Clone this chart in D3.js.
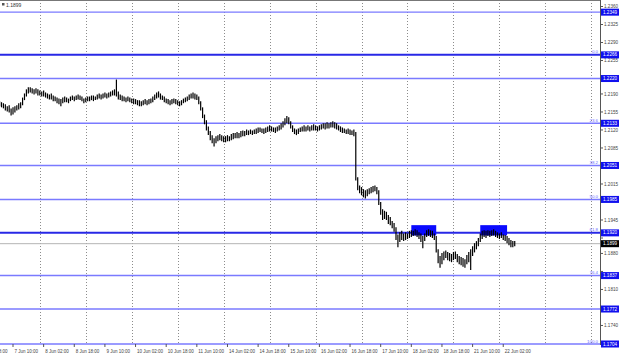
<!DOCTYPE html>
<html><head><meta charset="utf-8">
<script src="https://cdn.jsdelivr.net/npm/d3@7/dist/d3.min.js"></script>
<style>html,body{margin:0;padding:0;background:#fff;}svg{display:block;}</style>
</head><body>
<svg id="c" width="620" height="357"></svg>
<script>
// ---- data ----
const firstBarIndex = -7; // bar index of first visible H1 bar (0 = 7 Jun 10:00)
const highs = [
1.2175,1.2173,1.2171,1.2169,1.2165,1.2167,1.2161,1.2163,1.2165,1.2167,1.2171,1.2173,1.2182,1.2190,1.2198,1.2202,1.2202,
1.2200,1.2198,1.2200,1.2198,1.2196,1.2194,1.2196,1.2192,1.2190,1.2188,1.2190,1.2186,1.2184,1.2182,1.2180,1.2179,1.2182,1.2184,1.2182,1.2180,
1.2184,1.2186,1.2184,1.2186,1.2188,1.2186,1.2184,1.2180,1.2182,1.2184,1.2184,1.2186,1.2186,1.2184,1.2188,1.2190,1.2188,1.2190,1.2192,1.2190,1.2192,1.2194,1.2196,1.2198,
1.2217,1.2194,1.2188,1.2186,1.2184,1.2182,1.2184,1.2182,1.2180,1.2180,1.2179,1.2177,1.2177,1.2175,1.2177,1.2179,1.2177,1.2179,1.2180,1.2184,1.2188,1.2192,1.2194,1.2190,1.2186,
1.2184,1.2180,1.2179,1.2177,1.2179,1.2180,1.2179,1.2177,1.2175,1.2177,1.2180,1.2182,1.2184,1.2188,1.2190,1.2192,1.2190,1.2188,1.2184,
1.2175,1.2163,1.2149,1.2138,1.2126,1.2117,1.2109,1.2103,1.2107,1.2109,1.2111,1.2109,1.2107,1.2107,1.2109,1.2107,1.2111,1.2113,1.2113,1.2115,1.2113,1.2117,1.2118,
1.2117,1.2120,1.2118,1.2120,1.2118,1.2120,1.2122,1.2124,1.2124,1.2122,1.2122,1.2124,1.2126,1.2128,1.2126,1.2124,1.2124,1.2126,1.2128,1.2132,1.2136,1.2142,1.2146,1.2144,1.2136,
1.2128,1.2122,1.2120,1.2122,1.2124,1.2126,1.2128,1.2126,1.2128,1.2126,1.2128,1.2130,1.2128,1.2126,1.2128,1.2130,1.2132,1.2132,1.2134,1.2132,1.2134,1.2136,1.2134,1.2132,1.2128,1.2126,1.2124,1.2122,1.2120,1.2122,1.2120,1.2118,1.2120,
1.2115,1.2027,1.2011,1.2008,1.2004,1.2002,1.2004,1.2006,1.2008,1.2010,1.2011,1.2008,1.2002,1.1979,1.1965,1.1962,1.1960,1.1954,1.1950,1.1942,1.1938,1.1930,
1.1916,1.1920,1.1923,1.1918,1.1920,1.1918,1.1923,1.1924,1.1923,1.1926,1.1924,1.1920,1.1918,1.1913,1.1918,1.1924,1.1926,1.1924,1.1923,1.1918,1.1913,
1.1887,1.1874,1.1880,1.1883,1.1885,1.1882,1.1880,1.1878,1.1882,1.1883,1.1878,1.1874,1.1872,1.1870,1.1868,1.1876,1.1882,1.1887,1.1893,1.1899,1.1903,1.1909,
1.1918,1.1923,1.1924,1.1923,1.1924,1.1923,1.1924,1.1926,1.1923,1.1920,1.1918,1.1920,1.1916,1.1915,1.1913,1.1909,1.1905,1.1903,1.1903
];
const lows = [
1.2167,1.2165,1.2163,1.2159,1.2157,1.2155,1.2149,1.2151,1.2155,1.2159,1.2161,1.2163,1.2169,1.2179,1.2186,1.2192,1.2194,
1.2192,1.2190,1.2192,1.2188,1.2188,1.2186,1.2186,1.2184,1.2182,1.2180,1.2180,1.2177,1.2177,1.2173,1.2171,1.2167,1.2173,1.2175,1.2175,1.2173,
1.2177,1.2179,1.2177,1.2179,1.2180,1.2179,1.2177,1.2173,1.2175,1.2177,1.2177,1.2179,1.2177,1.2179,1.2180,1.2182,1.2180,1.2182,1.2184,1.2182,1.2184,1.2186,1.2188,1.2188,
1.2186,1.2180,1.2179,1.2177,1.2177,1.2175,1.2177,1.2175,1.2173,1.2171,1.2171,1.2169,1.2167,1.2167,1.2169,1.2171,1.2169,1.2171,1.2173,1.2175,1.2179,1.2182,1.2184,1.2180,1.2179,
1.2175,1.2173,1.2171,1.2169,1.2171,1.2173,1.2171,1.2169,1.2167,1.2169,1.2173,1.2175,1.2177,1.2179,1.2182,1.2182,1.2180,1.2179,1.2171,
1.2159,1.2144,1.2132,1.2120,1.2111,1.2101,1.2095,1.2089,1.2095,1.2099,1.2101,1.2099,1.2097,1.2097,1.2099,1.2099,1.2101,1.2103,1.2105,1.2105,1.2105,1.2107,1.2109,
1.2109,1.2111,1.2111,1.2113,1.2111,1.2113,1.2113,1.2115,1.2117,1.2115,1.2113,1.2115,1.2117,1.2118,1.2118,1.2117,1.2115,1.2118,1.2120,1.2122,1.2126,1.2130,1.2134,1.2132,1.2124,
1.2117,1.2113,1.2111,1.2113,1.2117,1.2118,1.2118,1.2118,1.2120,1.2118,1.2120,1.2120,1.2120,1.2118,1.2120,1.2122,1.2124,1.2122,1.2124,1.2124,1.2126,1.2126,1.2124,1.2122,1.2120,1.2117,1.2115,1.2115,1.2113,1.2113,1.2111,1.2111,1.2109,
1.2023,1.2004,1.1998,1.1994,1.1990,1.1988,1.1992,1.1996,1.1998,1.2000,1.2002,1.1996,1.1975,1.1956,1.1946,1.1948,1.1946,1.1938,1.1936,1.1930,1.1923,1.1907,
1.1893,1.1903,1.1907,1.1905,1.1907,1.1909,1.1911,1.1913,1.1915,1.1916,1.1913,1.1909,1.1903,1.1891,1.1905,1.1913,1.1915,1.1913,1.1911,1.1907,1.1883,
1.1862,1.1853,1.1860,1.1868,1.1872,1.1868,1.1866,1.1864,1.1868,1.1870,1.1864,1.1860,1.1858,1.1855,1.1853,1.1860,1.1864,1.1849,1.1876,1.1883,1.1889,1.1895,
1.1903,1.1909,1.1913,1.1911,1.1915,1.1913,1.1915,1.1916,1.1913,1.1911,1.1909,1.1911,1.1907,1.1905,1.1901,1.1897,1.1893,1.1893,1.1895
];
const timeLabels = ["4 Jun 18:00","7 Jun 10:00","8 Jun 02:00","8 Jun 18:00","9 Jun 10:00","10 Jun 02:00","10 Jun 18:00","11 Jun 10:00","14 Jun 02:00","14 Jun 18:00","15 Jun 10:00","16 Jun 02:00","16 Jun 18:00","17 Jun 10:00","18 Jun 02:00","18 Jun 18:00","21 Jun 10:00","22 Jun 02:00"];
const timeLabelIndex = [-16,0,16,32,48,64,80,96,112,128,144,160,176,192,208,224,240,256];
const dayStartIndex = [14,38,62,86,110,134,158,182,206,230,254,278,302];
const priceTicks = [1.2360,1.2325,1.2290,1.2255,1.2220,1.2190,1.2155,1.2120,1.2085,1.2050,1.2015,1.1980,1.1945,1.1910,1.1880,1.1845,1.1810,1.1775,1.1740];
const levelValues = [1.2349,1.2266,1.2220,1.2133,1.2051,1.1985,1.1920,1.1837,1.1772,1.1704];
const levelStrong = [false,true,false,false,false,false,true,false,false,false];
const fibNames = ["0.0","23.6","38.2","50.0","61.8","76.4","100.0"];
const fibValues = [1.2266,1.2133,1.2051,1.1985,1.1920,1.1837,1.1704];
const zoneStartIndex = [208,244];
const zoneEndIndex = [221,258];
const zoneTop = [1.1935];
const zoneBottom = [1.1915];
const currentPrice = 1.1899;

// ---- drawing ----
const svg = d3.select("#c");
const W = 620, H = 357, plotR = 600, plotB = 344;
const font = "'Liberation Sans', Arial, sans-serif";
const y = d3.scaleLinear().domain([1.2360, 1.1704]).range([6.5, 344]);
const x = d3.scaleLinear().domain([0, 300]).range([13, 13 + 1.915 * 300]);

svg.append("rect").attr("width", W).attr("height", H).attr("fill", "#fff");
const plot = svg.append("g");
svg.append("defs").append("clipPath").attr("id","clip").append("rect").attr("x",0).attr("y",0).attr("width",plotR).attr("height",plotB);

// vertical day grid
plot.append("g").selectAll("line").data(dayStartIndex).join("line")
  .attr("x1", d => Math.round(x(d)) + 0.5).attr("x2", d => Math.round(x(d)) + 0.5)
  .attr("y1", 0).attr("y2", plotB)
  .attr("stroke", "#8c8c8c").attr("stroke-width", 1).attr("stroke-dasharray", "1,2")
  .attr("clip-path","url(#clip)");

// current price line
plot.append("line").attr("x1", 0).attr("x2", plotR)
  .attr("y1", y(currentPrice)).attr("y2", y(currentPrice))
  .attr("stroke", "#b4b4b4").attr("stroke-width", 1);

// level lines
plot.append("g").selectAll("line").data(levelValues).join("line")
  .attr("x1", 0).attr("x2", plotR)
  .attr("y1", d => y(d)).attr("y2", d => y(d))
  .attr("stroke", (d, i) => levelStrong[i] ? "#2828e6" : "#7a7aff")
  .attr("stroke-width", (d, i) => levelStrong[i] ? 2 : 1.4);

// fib labels
plot.append("g").selectAll("text").data(fibValues).join("text")
  .attr("x", plotR - 2).attr("y", d => y(d) - 1.5)
  .attr("text-anchor", "end").attr("font-family", font).attr("font-size", 4.4)
  .attr("fill", "#6a6aff").text((d, i) => fibNames[i]);

// zones (blue rectangles)
const zones = zoneStartIndex.map((s, i) => ({ s, e: zoneEndIndex[i] }));
plot.append("g").selectAll("rect").data(zones).join("rect")
  .attr("x", d => x(d.s)).attr("width", d => x(d.e) - x(d.s))
  .attr("y", y(zoneTop[0])).attr("height", y(zoneBottom[0]) - y(zoneTop[0]))
  .attr("fill", "#0a0aff");

// price bars
const bars = highs.map((h, i) => ({ i: firstBarIndex + i, h, l: lows[i] }));
plot.append("g").attr("clip-path","url(#clip)").selectAll("line").data(bars).join("line")
  .attr("x1", d => x(d.i)).attr("x2", d => x(d.i))
  .attr("y1", d => y(d.h) - 0.5).attr("y2", d => y(d.l) + 0.5)
  .attr("stroke", "#000").attr("stroke-width", 1.2);

// axes lines
svg.append("line").attr("x1", plotR + 0.5).attr("x2", plotR + 0.5).attr("y1", 0).attr("y2", plotB + 1)
  .attr("stroke", "#555").attr("stroke-width", 1);
svg.append("line").attr("x1", 0).attr("x2", plotR).attr("y1", 0.5).attr("y2", 0.5)
  .attr("stroke", "#777").attr("stroke-width", 1);

// right price axis (labels hidden behind level boxes are skipped)
const boxed = levelValues.concat([currentPrice]);
const visibleTicks = priceTicks.filter(t => boxed.every(b => Math.abs(y(t) - y(b)) > 5.2));
const ax = svg.append("g");
ax.selectAll("line").data(priceTicks).join("line")
  .attr("x1", plotR).attr("x2", plotR + 3).attr("y1", d => y(d)).attr("y2", d => y(d))
  .attr("stroke", "#555");
ax.selectAll("text").data(visibleTicks).join("text")
  .attr("x", plotR + 4).attr("y", d => y(d) + 1.6)
  .attr("font-family", font).attr("font-size", 4.6).attr("fill", "#444")
  .text(d => d.toFixed(4));

// price boxes on axis
const boxes = svg.append("g");
boxes.selectAll("rect").data(levelValues).join("rect")
  .attr("x", plotR + 1).attr("y", d => y(d) - 3.5).attr("width", 18).attr("height", 7)
  .attr("fill", "#1010ee");
boxes.selectAll("text").data(levelValues).join("text")
  .attr("x", plotR + 3).attr("y", d => y(d) + 1.6)
  .attr("font-family", font).attr("font-size", 4.6).attr("fill", "#fff")
  .text(d => d.toFixed(4));
svg.append("rect").attr("x", plotR + 1).attr("y", y(currentPrice) - 3.5).attr("width", 18).attr("height", 7).attr("fill", "#000");
svg.append("text").attr("x", plotR + 3).attr("y", y(currentPrice) + 1.6)
  .attr("font-family", font).attr("font-size", 4.6).attr("fill", "#fff").text(currentPrice.toFixed(4));

// bottom time axis
const tx = svg.append("g");
tx.selectAll("line").data(timeLabelIndex).join("line")
  .attr("x1", d => x(d)).attr("x2", d => x(d)).attr("y1", plotB).attr("y2", plotB + 3)
  .attr("stroke", "#555");
tx.selectAll("text").data(timeLabelIndex).join("text")
  .attr("x", d => x(d) + 1.5).attr("y", 353)
  .attr("font-family", font).attr("font-size", 4.5).attr("fill", "#444")
  .text((d, i) => timeLabels[i]);

// top-left caption
svg.append("rect").attr("x", 2).attr("y", 3).attr("width", 2.5).attr("height", 2.5).attr("fill", "#555");
svg.append("text").attr("x", 6).attr("y", 6.5).attr("font-family", font).attr("font-size", 5)
  .attr("fill", "#333").text(currentPrice.toFixed(4));
</script>
</body></html>
